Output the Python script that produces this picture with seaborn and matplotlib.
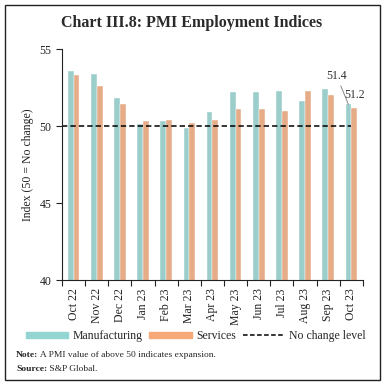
import matplotlib
matplotlib.use("Agg")
import matplotlib.pyplot as plt
import matplotlib.patches as mpatches
from matplotlib.lines import Line2D
import seaborn as sns
import pandas as pd

# data
months = ["Oct 22", "Nov 22", "Dec 22", "Jan 23", "Feb 23", "Mar 23", "Apr 23",
          "May 23", "Jun 23", "Jul 23", "Aug 23", "Sep 23", "Oct 23"]
manufacturing = [53.6, 53.4, 51.8, 50.1, 50.3, 49.9, 50.9, 52.2, 52.2, 52.3, 51.6, 52.4, 51.4]
services = [53.3, 52.6, 51.4, 50.3, 50.4, 50.2, 50.4, 51.1, 51.1, 51.0, 52.3, 52.0, 51.2]
no_change = 50

teal = "#93d5d3"
orange = "#f6a878"
dark = "#222222"

df = pd.DataFrame({
    "month": months * 2,
    "value": manufacturing + services,
    "series": ["Manufacturing"] * len(months) + ["Services"] * len(months),
})

sns.set_style("white")
plt.rcParams["font.family"] = ["Liberation Serif", "DejaVu Serif"]

fig = plt.figure(figsize=(3.84, 3.85), dpi=100)
ax = fig.add_axes([0.1615, 0.2727, 0.7835, 0.6]) 

sns.barplot(data=df, x="month", y="value", hue="series", order=months,
            palette=[teal, orange], width=0.5, ax=ax, legend=False,
            edgecolor="white", linewidth=0.3)

ax.plot([-0.5, len(months) - 1], [no_change, no_change], color="black",
        linestyle=(0, (3.5, 2)), linewidth=1.1)

ax.set_ylim(40, 55)
ax.set_xlim(-0.5, len(months) - 0.5)
ax.set_yticks([40, 45, 50, 55])
ax.set_xlabel("")
ax.set_ylabel("Index (50 = No change)", fontsize=8.5, color=dark)
ax.tick_params(axis="y", labelsize=8.5, length=4, width=0.8, direction="out",
               left=True, colors=dark)
ax.set_xticks(range(len(months)))
ax.set_xticklabels(months, rotation=90, fontsize=8.5, color=dark)
ax.tick_params(axis="x", length=0, pad=6)
# ticks at category boundaries
ax.set_xticks([i - 0.5 for i in range(len(months) + 1)], minor=True)
ax.tick_params(axis="x", which="minor", length=4, width=0.8, bottom=True, color=dark)

sns.despine(ax=ax)
for s in ["left", "bottom"]:
    ax.spines[s].set_color(dark)
    ax.spines[s].set_linewidth(0.8)

# labels on the last month
last = len(months) - 1
ax.annotate(f"{manufacturing[-1]}", xy=(last - 0.125, manufacturing[-1]),
            xytext=(11.37, 53.25), fontsize=8.5, ha="center", va="center",
            color="#333333",
            arrowprops=dict(arrowstyle="-", color="#888888", lw=0.7,
                            shrinkA=0.5, shrinkB=0))
ax.text(12.13, 51.99, f"{services[-1]}", fontsize=8.5, ha="center", va="center",
        color="#333333")

fig.text(0.5, 0.94, "Chart III.8: PMI Employment Indices", ha="center", va="center",
         fontsize=11.5, fontweight="bold", color="#2a2a2a")

handles = [
    mpatches.Patch(color=teal, label="Manufacturing"),
    mpatches.Patch(color=orange, label="Services"),
    Line2D([0], [0], color="black", linestyle=(0, (3, 1.6)), lw=1.1, label="No change level"),
]
fig.legend(handles=handles, loc="center", bbox_to_anchor=(0.51, 0.127), ncol=3,
           frameon=False, fontsize=8.5, handlelength=3.6, handleheight=0.45,
           handletextpad=0.35, columnspacing=0.6, borderaxespad=0)

# note and source with bold lead words
fig.canvas.draw()
renderer = fig.canvas.get_renderer()
for yy, lead, rest in [(0.078, "Note:", " A PMI value of above 50 indicates expansion."),
                       (0.041, "Source:", " S&P Global.")]:
    t = fig.text(0.042, yy, lead, fontsize=6.8, fontweight="bold", va="center", ha="left")
    bb = t.get_window_extent(renderer=renderer)
    x1 = fig.transFigure.inverted().transform((bb.x1, bb.y0))[0]
    fig.text(x1, yy, rest, fontsize=6.8, va="center", ha="left")

fig.patches.append(mpatches.Rectangle((0.013, 0.013), 0.977, 0.974, transform=fig.transFigure,
                                      fill=False, edgecolor=dark, linewidth=1.0))

fig.savefig("out.png", dpi=100)
